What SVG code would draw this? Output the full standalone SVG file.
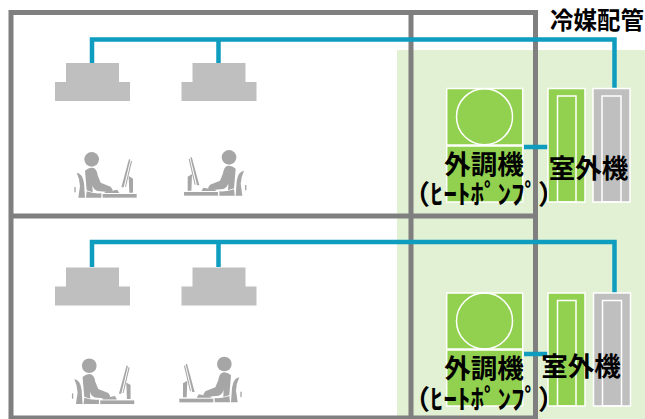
<svg xmlns="http://www.w3.org/2000/svg" width="645" height="419" viewBox="0 0 645 419">
<style>
.wall{fill:none;stroke:#7f7f7f;stroke-width:5}
.pipe{fill:none;stroke:#0f9dbf;stroke-width:4.500}
.unit{fill:#bfbfbf}
.g{fill:#92d050;stroke:#fff;stroke-width:1.500}
.s{fill:#bfbfbf;stroke:#fff;stroke-width:1.500}
.i{fill:none;stroke:#fff;stroke-width:1.500}
text{font-family:"Noto Sans CJK JP","Liberation Sans",sans-serif;font-weight:700;fill:#000}
.l{font-size:26.500px;text-anchor:middle}
.k{font-size:27px;text-anchor:middle}
</style>
<defs>
<g id="idu"><path class="unit" d="M66 63H119V82H130V101H55V82H66Z"/></g>
<g id="person" fill="#a6a6a6" transform="translate(60 140) scale(.3333)">
<circle cx="95" cy="58" r="22"/>
<path d="M75 92Q88 80 102 84Q111 90 113 106L122 128L152 140L158 149L153 157L112 153Q100 148 97 136L98 157L80 151Z"/>
<path d="M80 154Q100 162 124 160V173H78Z"/>
<path d="M50 98Q68 100 72 130L75 173H55L60 138Q59 116 50 98Z"/>
<rect x="43" y="141" width="4" height="16"/>
<rect x="128" y="162" width="102" height="11"/>
<path d="M133 156L172 149L178 159H136Z"/>
<path d="M207 57L211 59L191 142L184 142Z"/>
<path d="M213 62L216 64L198 140L195 140Z"/>
<path d="M206 108L219 116V158H208Z"/>
</g>
</defs>
<rect id="site" x="397" y="50" width="248" height="369" fill="#e2f1d3"/>
<g id="building">
<path class="wall" d="M11 12.500H535.500V418H11Z"/>
<path class="wall" d="M11 216H535.500M411 12.500V418"/>
</g>
<g id="connectors">
<path class="pipe" d="M92 63V39.500H614.500V88M218.500 39.500V63"/>
<path class="pipe" d="M524 147H548"/>
<path class="pipe" d="M92 267V242H614.500V293M218.500 242V267"/>
<path class="pipe" d="M524 354H548"/>
</g>
<g id="idu-1"><use href="#idu"/></g>
<g id="idu-2"><use href="#idu" x="126.500"/></g>
<g id="idu-3"><use href="#idu" y="204.500"/></g>
<g id="idu-4"><use href="#idu" x="126.500" y="204.500"/></g>
<g id="person-1"><use href="#person"/></g>
<g id="person-2"><use href="#person" transform="translate(320.700 -2) scale(-1 1)"/></g>
<g id="person-3"><use href="#person" transform="translate(-2.400 206.400)"/></g>
<g id="person-4"><use href="#person" transform="translate(316 204.700) scale(-1 1)"/></g>
<g id="ahu-1">
<rect class="g" x="446.700" y="88.500" width="76" height="56.500"/>
<rect class="g" x="446.700" y="146" width="76" height="56"/>
<circle class="i" cx="484.500" cy="116.700" r="28"/>
<text class="l" x="484" y="174">外調機</text>
<text class="k" x="484" y="204">（ﾋｰﾄﾎﾟﾝﾌﾟ）</text>
</g>
<g id="odu-1">
<rect class="g" x="548" y="88.500" width="37" height="113.500"/>
<rect class="i" x="557.500" y="96" width="18.500" height="106"/>
<rect class="s" x="593" y="88.500" width="37" height="113.500"/>
<rect class="i" x="602" y="96" width="19" height="106"/>
<text class="l" x="588.500" y="178">室外機</text>
</g>
<g id="ahu-2">
<rect class="g" x="446.700" y="293" width="76" height="56"/>
<rect class="g" x="446.700" y="350" width="76" height="56"/>
<circle class="i" cx="484.500" cy="321" r="28"/>
<text class="l" x="484" y="378">外調機</text>
<text class="k" x="484" y="408.500">（ﾋｰﾄﾎﾟﾝﾌﾟ）</text>
</g>
<g id="odu-2">
<rect class="g" x="548" y="293" width="37" height="113"/>
<rect class="i" x="557.500" y="300.500" width="18.500" height="105.500"/>
<rect class="s" x="593.500" y="293" width="37" height="113"/>
<rect class="i" x="602.500" y="300.500" width="19" height="105.500"/>
<text class="l" x="581" y="376">室外機</text>
</g>
<g id="label"><text x="550" y="29" font-size="23.500">冷媒配管</text></g>
</svg>
